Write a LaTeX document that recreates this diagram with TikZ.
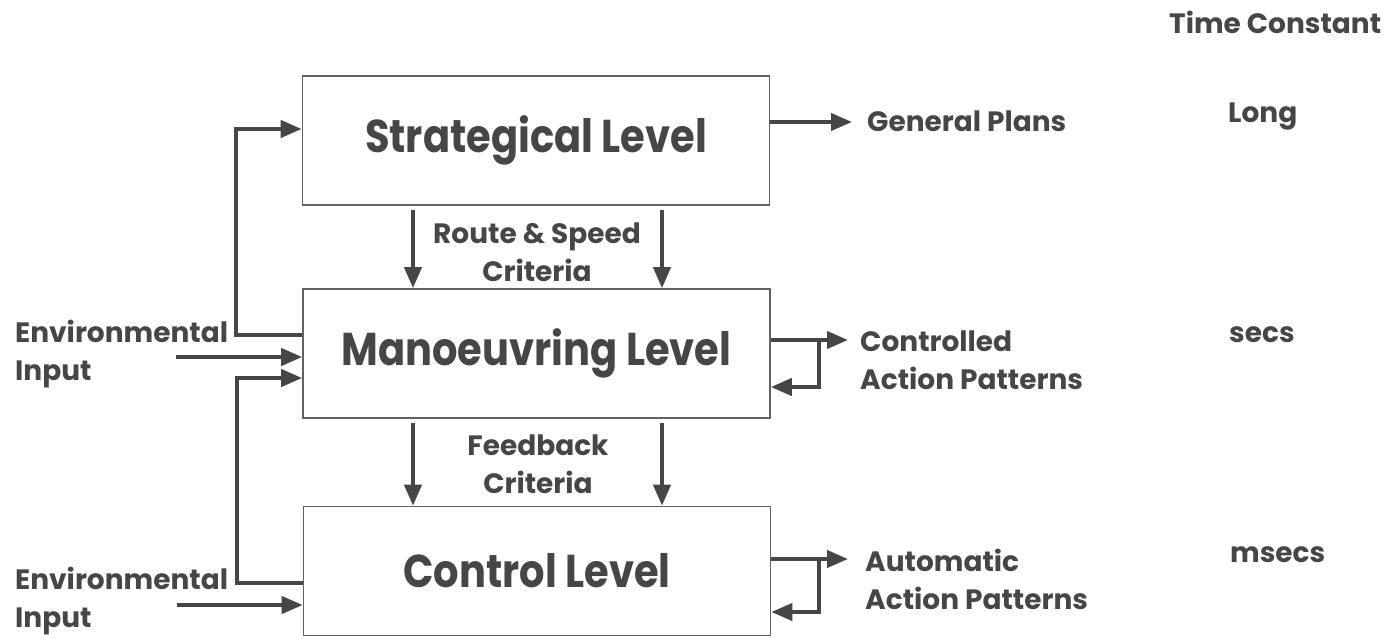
\documentclass[tikz,border=0pt]{standalone}
\usepackage{fontspec}
\setmainfont{Poppins}
\newfontfamily\narrowfont{Poppins}[FakeStretch=0.87]
\usetikzlibrary{arrows.meta}
\definecolor{ink}{HTML}{464646}
\tikzstyle{level}=[draw=ink!85,line width=1.6pt,minimum width=467pt,minimum height=129pt,inner sep=0pt,text=ink,font=\narrowfont\bfseries\fontsize{46}{50}\selectfont]
\tikzstyle{note}=[inner sep=0pt,text=ink,font=\bfseries\fontsize{28}{38}\selectfont]
\tikzstyle{flow}=[draw=ink,line width=4pt,-{Triangle[length=21pt,width=17pt]}]

\begin{document}
\begin{tikzpicture}[x=1pt,y=-1pt]
        \useasboundingbox (0,0) rectangle (1386,638);
        % the three levels
        \node[level] (strat) at (536,140.5) {Strategical Level};
        \node[level] (man) at (536.5,353.5) {Manoeuvring Level};
        \node[level] (ctrl) at (537,571) {Control Level};
        % criteria between the levels
        \foreach \x in {413,662}{
          \draw[flow,shorten <=4pt] (strat.south -| \x,0) -- (man.north -| \x,0);
          \draw[flow,shorten <=4pt] (man.south -| \x,0) -- (ctrl.north -| \x,0);
        }
        \node[note,align=center,anchor=base] (route) at (537,281) {Route \& Speed\\Criteria};
        \node[note,align=center,anchor=base] (fback) at (538,493) {Feedback\\Criteria};
        % outputs
        \node[note,anchor=base west] (plans) at (867,131) {General Plans};
        \node[note,align=left,anchor=base west] (ctlact) at (860,389) {Controlled\\Action Patterns};
        \node[note,align=left,anchor=base west] (autact) at (865,609) {Automatic\\Action Patterns};
        \draw[flow] (strat.east |- 0,122) -- (852,122);
        \coordinate (mo) at (819,340);
        \coordinate (mb) at (819,387);
        \draw[flow] (man.east |- mo) -- (848,340);
        \draw[flow] (mo) -- (mb) -- (man.east |- mb);
        \coordinate (co) at (819,559);
        \coordinate (cb) at (819,612);
        \draw[flow] (ctrl.east |- co) -- (848,559);
        \draw[flow] (co) -- (cb) -- (ctrl.east |- cb);
        % environmental inputs and feedback
        \node[note,align=left,anchor=base west] (envA) at (15,380) {Environmental\\Input};
        \node[note,align=left,anchor=base west] (envB) at (15,627) {Environmental\\Input};
        \coordinate (inA) at (176,357);
        \coordinate (inB) at (177,605);
        \draw[flow] (inA) -- (man.west |- inA);
        \draw[flow] (inB) -- (ctrl.west |- inB);
        \draw[flow] (man.west |- 0,335) -- (236,335) -- (236,129) -- (strat.west |- 0,129);
        \draw[flow] (ctrl.west |- 0,583) -- (237,583) -- (237,378) -- (man.west |- 0,378);
        % time constants
        \node[note,anchor=base west] (tc) at (1169,33) {Time Constant};
        \node[note,anchor=base west] (long) at (1228,122) {Long};
        \node[note,anchor=base west] (secs) at (1229,342) {secs};
        \node[note,anchor=base west] (msecs) at (1230,562) {msecs};
\end{tikzpicture}
\end{document}
